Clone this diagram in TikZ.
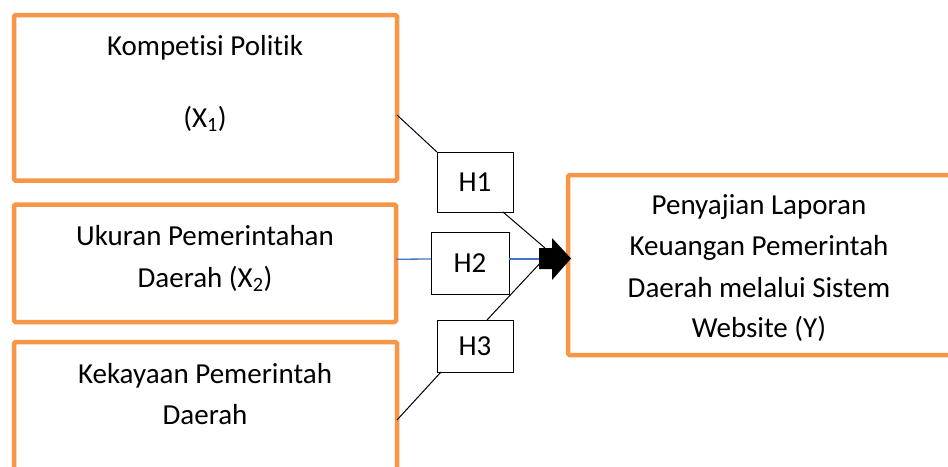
\documentclass[tikz,border=0pt]{standalone}
\usepackage{fontspec}
\setmainfont{Carlito}[Ligatures={NoCommon}]
\definecolor{boxorange}{RGB}{247,150,70}
\definecolor{lineblue}{RGB}{68,114,196}
\begin{document}
\begin{tikzpicture}[x=1pt,y=-1pt,
  varbox/.style={draw=boxorange,line width=4.5pt,rounded corners=1.5pt,inner sep=0pt,outer sep=0pt,fill=white},
  hbox/.style={draw=black,line width=0.9pt,inner sep=0pt,outer sep=0pt,fill=white,font=\fontsize{29}{41}\selectfont},
  txt/.style={anchor=base,inner sep=0pt,font=\fontsize{29}{41}\selectfont},
  conn/.style={draw=black,line width=1pt},
  bconn/.style={draw=lineblue,line width=1.3pt}]
\useasboundingbox (0,0) rectangle (948,466);
% variable boxes
\node[varbox,minimum width=383pt,minimum height=165.5pt] (b1) at (205.5,97.75) {};
\node[varbox,minimum width=382pt,minimum height=117.5pt] (b2) at (205,263.25) {};
\node[varbox,minimum width=383pt,minimum height=160pt] (b3) at (205.5,422) {};
\node[varbox,minimum width=400pt,minimum height=180pt] (by) at (768,265) {};
% texts
\node[txt] (t1a) at (205,55) {Kompetisi Politik};
\node[txt] (t1b) at (205,127) {(X\textsubscript{1})};
\node[txt] (t2a) at (205,245) {Ukuran Pemerintahan};
\node[txt] (t2b) at (205,287) {Daerah (X\textsubscript{2})};
\node[txt] (t3a) at (205,383) {Kekayaan Pemerintah};
\node[txt] (t3b) at (205,424) {Daerah};
\node[txt] (tya) at (759,214) {Penyajian Laporan};
\node[txt] (tyb) at (759,255) {Keuangan Pemerintah};
\node[txt] (tyc) at (759,297) {Daerah melalui Sistem};
\node[txt] (tyd) at (759,337) {Website (Y)};
% hypothesis boxes
\node[hbox,minimum width=76pt,minimum height=60pt] (h1) at (475,182) {H1};
\node[hbox,minimum width=78pt,minimum height=62pt] (h2) at (470,263) {H2};
\node[hbox,minimum width=76pt,minimum height=52pt] (h3) at (475,346) {H3};
% coordinates
\coordinate (c1) at (397,115);
\coordinate (c3) at (397,420);
\coordinate (a1) at (545,248);
\coordinate (a2) at (540,259);
\coordinate (a3) at (543,260);
% connectors
\draw[conn] (c1) -- (h1.north west);
\draw[conn] ([xshift=-10pt]h1.south east) -- (a1);
\draw[bconn] ([yshift=4pt]b2.east) -- ([yshift=4pt]h2.west);
\draw[bconn] ([yshift=4pt]h2.east) -- (a2);
\draw[conn] ([xshift=4pt]h3.south west) -- (c3);
\draw[conn] ([xshift=12pt]h3.north) -- (a3);
% block arrow
\fill[black] (539,248) -- (552,248) -- (552,238) -- (571,258.5) -- (552,280) -- (552,269) -- (539,269) -- cycle;
\end{tikzpicture}
\end{document}
